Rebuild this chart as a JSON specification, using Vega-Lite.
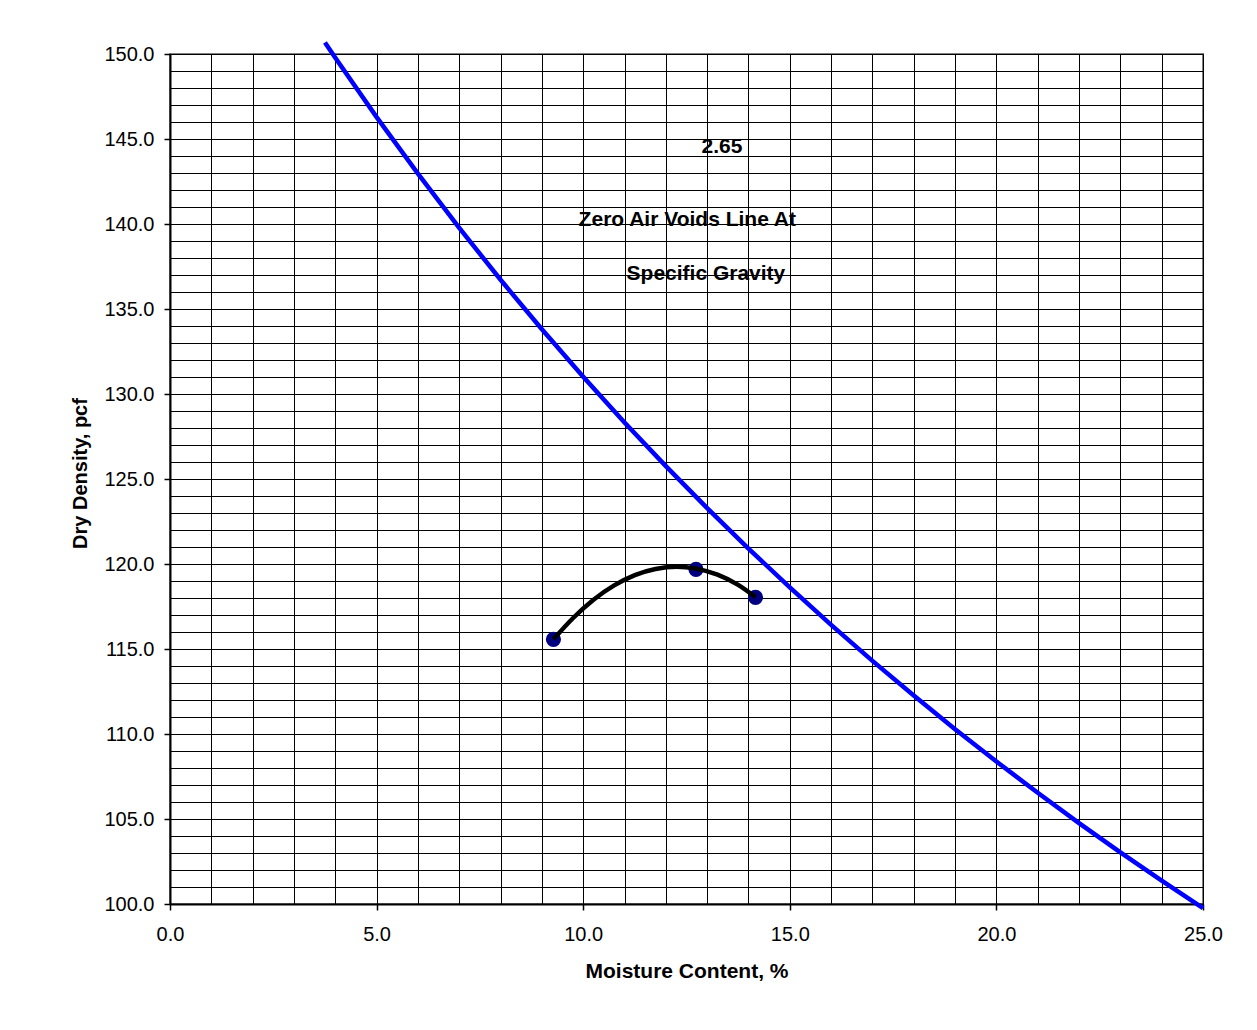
{
  "$schema": "https://vega.github.io/schema/vega-lite/v6.json",
  "width": 1033,
  "height": 850,
  "autosize": {"type": "none"},
  "padding": {"left": 170, "top": 54, "right": 54, "bottom": 126},
  "background": "white",
  "config": {
    "font": "Liberation Sans",
    "view": {"stroke": "#808080", "strokeWidth": 2}
  },
  "datasets": {
    "zav": [
      {"w": 3.75, "gd": 150.68},
      {"w": 4, "gd": 149.78},
      {"w": 5, "gd": 146.29},
      {"w": 6, "gd": 142.96},
      {"w": 7, "gd": 139.77},
      {"w": 8, "gd": 136.72},
      {"w": 9, "gd": 133.81},
      {"w": 10, "gd": 131.01},
      {"w": 11, "gd": 128.33},
      {"w": 12, "gd": 125.76},
      {"w": 13, "gd": 123.29},
      {"w": 14, "gd": 120.91},
      {"w": 15, "gd": 118.62},
      {"w": 16, "gd": 116.42},
      {"w": 17, "gd": 114.3},
      {"w": 18, "gd": 112.26},
      {"w": 19, "gd": 110.28},
      {"w": 20, "gd": 108.38},
      {"w": 21, "gd": 106.54},
      {"w": 22, "gd": 104.76},
      {"w": 23, "gd": 103.04},
      {"w": 24, "gd": 101.37},
      {"w": 25, "gd": 99.76}
    ],
    "curve": [
      {"w": 9.28, "gd": 115.57},
      {"w": 9.75, "gd": 116.81},
      {"w": 10.25, "gd": 117.9},
      {"w": 10.75, "gd": 118.74},
      {"w": 11.25, "gd": 119.35},
      {"w": 11.75, "gd": 119.71},
      {"w": 12.26, "gd": 119.84},
      {"w": 12.73, "gd": 119.73},
      {"w": 13.25, "gd": 119.37},
      {"w": 13.75, "gd": 118.77},
      {"w": 14.17, "gd": 118.05}
    ],
    "points": [
      {"w": 9.28, "gd": 115.57},
      {"w": 12.73, "gd": 119.68},
      {"w": 14.17, "gd": 118.04}
    ],
    "notes": [
      {"w": 13.36, "gd": 144.53, "label": "2.65"},
      {"w": 12.52, "gd": 140.24, "label": "Zero Air Voids Line At"},
      {"w": 12.97, "gd": 137.06, "label": "Specific Gravity"}
    ]
  },
  "encoding": {
    "x": {
      "field": "w",
      "type": "quantitative",
      "scale": {"domain": [0, 25], "nice": false, "zero": false},
      "axis": {
        "title": "Moisture Content, %",
        "values": [0,1,2,3,4,5,6,7,8,9,10,11,12,13,14,15,16,17,18,19,20,21,22,23,24,25],
        "format": ".1f",
        "labelExpr": "datum.value % 5 === 0 ? datum.label : ''",
        "labelOverlap": false,
        "labelFlush": false,
        "grid": true,
        "gridColor": "#000000",
        "gridWidth": 1,
        "gridOpacity": 1,
        "domainColor": "#000000",
        "domainWidth": 2,
        "tickColor": "#000000",
        "tickWidth": 1.5,
        "tickSize": 6,
        "tickOpacity": {"condition": {"test": "datum.value % 5 === 0", "value": 1}, "value": 0},
        "labelFont": "Liberation Sans",
        "labelFontSize": 20,
        "labelColor": "#000000",
        "labelPadding": 14,
        "titleFont": "Liberation Sans",
        "titleFontSize": 21,
        "titleFontWeight": "bold",
        "titleColor": "#000000",
        "titlePadding": 16
      }
    },
    "y": {
      "field": "gd",
      "type": "quantitative",
      "scale": {"domain": [100, 150], "nice": false, "zero": false},
      "axis": {
        "title": "Dry Density, pcf",
        "values": [100,101,102,103,104,105,106,107,108,109,110,111,112,113,114,115,116,117,118,119,120,121,122,123,124,125,126,127,128,129,130,131,132,133,134,135,136,137,138,139,140,141,142,143,144,145,146,147,148,149,150],
        "format": ".1f",
        "labelExpr": "datum.value % 5 === 0 ? datum.label : ''",
        "labelOverlap": false,
        "labelFlush": false,
        "grid": true,
        "gridColor": "#000000",
        "gridWidth": 1,
        "gridOpacity": 1,
        "domainColor": "#000000",
        "domainWidth": 2,
        "tickColor": "#000000",
        "tickWidth": 1.5,
        "tickSize": 6,
        "tickOpacity": {"condition": {"test": "datum.value % 5 === 0", "value": 1}, "value": 0},
        "labelFont": "Liberation Sans",
        "labelFontSize": 20,
        "labelColor": "#000000",
        "labelPadding": 10,
        "titleFont": "Liberation Sans",
        "titleFontSize": 20,
        "titleFontWeight": "bold",
        "titleColor": "#000000",
        "titlePadding": 13,
        "titleY": 419
      }
    }
  },
  "layer": [
    {
      "data": {"name": "zav"},
      "mark": {"type": "line", "color": "#0000FF", "strokeWidth": 4.5, "clip": false},
      "encoding": {}
    },
    {
      "data": {"name": "points"},
      "mark": {"type": "point", "shape": "circle", "filled": true, "color": "#000080", "size": 230, "opacity": 1}
    },
    {
      "data": {"name": "curve"},
      "mark": {"type": "line", "color": "#000000", "strokeWidth": 4.5, "interpolate": "monotone"},
      "encoding": {}
    },
    {
      "data": {"name": "notes"},
      "mark": {"type": "text", "font": "Liberation Sans", "fontSize": 21, "fontWeight": "bold", "color": "#000000", "align": "center", "baseline": "middle"},
      "encoding": {"text": {"field": "label", "type": "nominal"}}
    }
  ]
}
